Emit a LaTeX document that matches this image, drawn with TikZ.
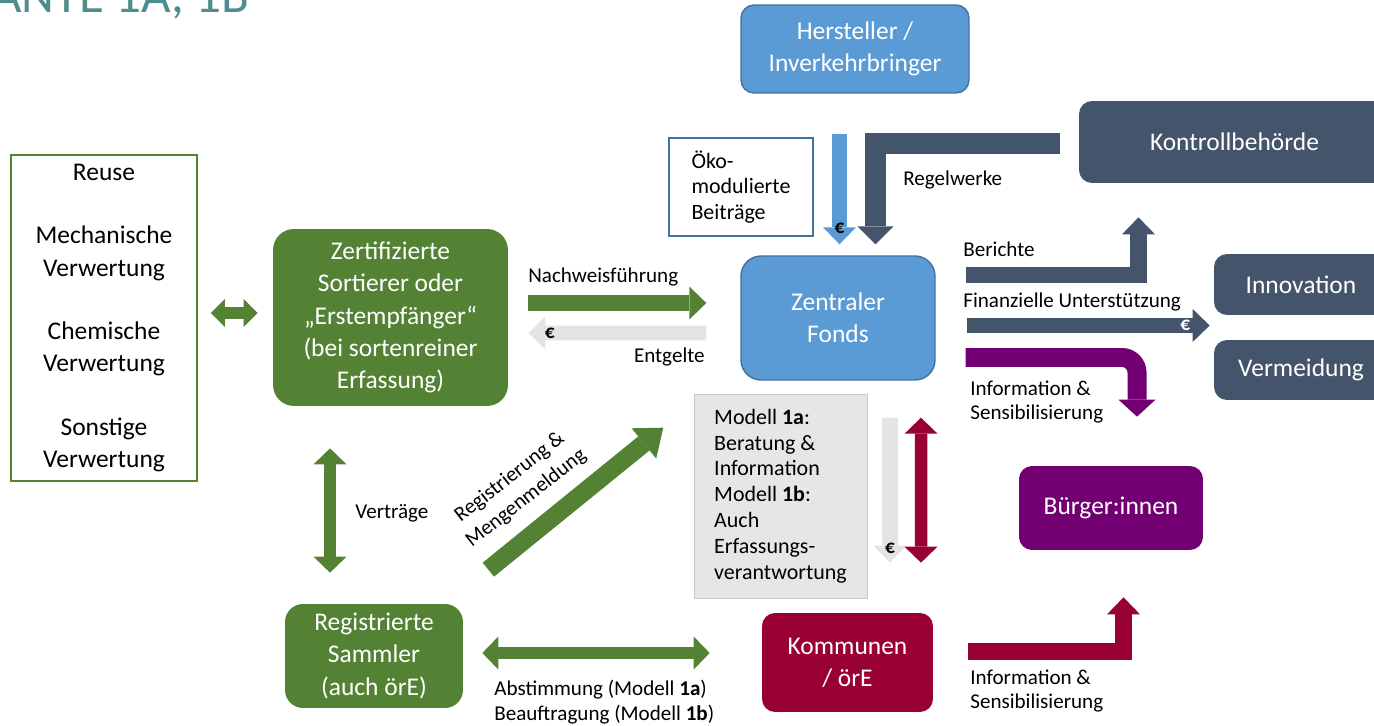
\documentclass[tikz,border=0pt]{standalone}
\usepackage{fontspec}
\setmainfont{Carlito}
\usepackage{xcolor}
\usepackage{tikz}
\usetikzlibrary{arrows.meta, positioning, calc}
\definecolor{sgreen}{HTML}{548235}
\definecolor{fundblue}{HTML}{5B9BD5}
\definecolor{blueline}{HTML}{41719C}
\definecolor{slate}{HTML}{44546A}
\definecolor{plum}{HTML}{720072}
\definecolor{crimson}{HTML}{990033}
\definecolor{panelgray}{HTML}{E7E6E6}
\definecolor{panelline}{HTML}{C8C8C8}
\definecolor{eurogray}{HTML}{E4E4E4}
\definecolor{titleteal}{HTML}{4E8C8E}

\begin{document}
\begin{tikzpicture}[x=0.02cm, y=-0.02cm,
    box/.style={rectangle, rounded corners=0.26cm, inner sep=0pt, text=white, align=center, font=\fontsize{14.5}{18.3}\selectfont},
    plain/.style={rectangle, inner sep=0pt, fill=white, align=center, font=\fontsize{14.5}{18.6}\selectfont},
    lbl/.style={inner sep=0pt, align=left, font=\fontsize{12}{14}\selectfont},
    euro/.style={inner sep=0pt, font=\fontsize{11}{11}\selectfont\bfseries},
    barr/.style={line width=#1, -{Triangle[length=0.34cm, width=0.66cm, line width=0pt]}},
    bdbl/.style={line width=#1, {Triangle[length=0.32cm, width=0.66cm, line width=0pt]}-{Triangle[length=0.32cm, width=0.66cm, line width=0pt]}}
]
    \useasboundingbox (0,0) rectangle (1374,726);
    \clip (0,0) rectangle (1374,726);

    \node[anchor=base west, inner sep=0pt, text=titleteal, font=\fontsize{29}{30}\selectfont] (title) at (-8,13) {ANTE 1A, 1B};

    \node[plain, draw=sgreen, line width=1pt, minimum width=3.72cm, minimum height=6.52cm] (verw) at (104,318) {Reuse\\[17.4pt]Mechanische\\Verwertung\\[17.4pt]Chemische\\Verwertung\\[17.4pt]Sonstige\\Verwertung};
    \node[box, fill=sgreen, rounded corners=0.42cm, minimum width=4.7cm, minimum height=3.54cm] (zert) at (390.5,317.5) {Zertifizierte\\Sortierer oder\\„Erstempfänger“\\(bei sortenreiner\\Erfassung)};
    \node[box, fill=sgreen, rounded corners=0.36cm, minimum width=3.56cm, minimum height=2.08cm] (sammler) at (374,656) {Registrierte\\Sammler\\(auch örE)};
    \node[box, fill=fundblue, draw=blueline, line width=0.8pt, minimum width=4.56cm, minimum height=1.76cm] (herst) at (855,49) {Hersteller /\\Inverkehrbringer};
    \node[box, fill=fundblue, draw=blueline, line width=0.8pt, rounded corners=0.4cm, minimum width=3.88cm, minimum height=2.48cm] (fonds) at (838,318) {Zentraler\\Fonds};
    \node[plain, draw=blueline, line width=0.8pt, align=left, font=\fontsize{12.5}{14.7}\selectfont, minimum width=2.88cm, minimum height=1.96cm] (oeko) at (741,187) {Öko-\\modulierte\\Beiträge};
    \node[plain, draw=panelline, fill=panelgray, align=left, font=\fontsize{12.5}{14.7}\selectfont, minimum width=3.46cm, minimum height=4.08cm] (modell) at (780.5,496) {Modell \textbf{1a}:\\Beratung \&\\Information\\Modell \textbf{1b}:\\Auch\\Erfassungs-\\verantwortung};
    \node[box, fill=slate, minimum width=6.22cm, minimum height=1.64cm] (kontroll) at (1234.5,142) {Kontrollbehörde};
    \node[box, fill=slate, minimum width=3.48cm, minimum height=1.22cm] (innov) at (1301,284.5) {Innovation};
    \node[box, fill=slate, minimum width=3.48cm, minimum height=1.2cm] (vermeid) at (1301,370) {Vermeidung};
    \node[box, fill=plum, minimum width=3.68cm, minimum height=1.68cm] (buerger) at (1111,508) {Bürger:innen};
    \node[box, fill=crimson, minimum width=3.42cm, minimum height=1.98cm] (kommunen) at (847.5,662.5) {Kommunen\\/ örE};

    \draw[sgreen, line width=0.24cm, {Triangle[length=0.28cm, width=0.56cm, line width=0pt]}-{Triangle[length=0.28cm, width=0.56cm, line width=0pt]}] ($(verw.east)+(13,-5)$) -- ($(zert.west)+(-15,-4.5)$);
    \draw[barr=0.32cm, sgreen] ($(zert.east)+(20,-14.5)$) -- ($(fonds.west)+(-34,-15)$);
    \draw[barr=0.3cm, eurogray] ($(fonds.west)+(-34,15)$) -- node[euro, pos=0.88, text=black] {€} ($(zert.east)+(20,15.5)$);
    \draw[barr=0.3cm, fundblue] ($(herst.south -| fonds.north)+(1.5,40)$) -- node[euro, pos=0.86, text=black] {€} ($(fonds.north)+(1.5,-11)$);
    \draw[slate, line width=0.42cm, -{Triangle[length=0.36cm, width=0.72cm, line width=0pt]}] ($(kontroll.west)+(-19,1.5)$) -| ($(fonds.north)+(37.5,-11)$);
    \draw[barr=0.33cm, slate] ($(fonds.east)+(30,-43)$) -| ($(kontroll.south)+(-96,34)$);
    \draw[barr=0.3cm, slate] ($(fonds.east)+(31,7.5)$) -- node[euro, pos=0.9, text=white] {€} ($(innov.south west)!0.5!(vermeid.north west)+(-4,-2)$);
    \draw[plum, line width=0.38cm, rounded corners=0.3cm, -{Triangle[length=0.34cm, width=0.74cm, line width=0pt]}] ($(fonds.east)+(30,39.5)$) -| ($(buerger.north)+(26,-49)$);
    \draw[barr=0.32cm, eurogray] ($(fonds.south)+(52,37)$) -- node[euro, pos=0.9, text=black] {€} ($(kommunen.north)+(42.5,-50)$);
    \draw[bdbl=0.25cm, crimson] ($(fonds.south)+(83,37)$) -- ($(kommunen.north)+(73.5,-50)$);
    \draw[barr=0.34cm, crimson] ($(kommunen.east)+(35,-11)$) -| ($(buerger.south)+(12.5,47)$);
    \draw[bdbl=0.24cm, sgreen] ($(zert.south)+(-60.5,42)$) -- ($(sammler.north)+(-44,-31)$);
    \draw[sgreen, line width=0.36cm, -{Triangle[length=0.5cm, width=0.78cm, line width=0pt]}] ($(sammler.north east)+(25,-34)$) -- ($(fonds.south west)+(-77,47)$);
    \draw[bdbl=0.24cm, sgreen] ($(sammler.east)+(19,-3)$) -- ($(kommunen.west)+(-52,-9.5)$);

    \node[lbl, anchor=west] (nachw) at (528,277) {Nachweisführung};
    \node[lbl, anchor=east] (entg) at (705,357) {Entgelte};
    \node[lbl, anchor=west] (regel) at (903,180) {Regelwerke};
    \node[lbl, anchor=west] (ber) at (963,249) {Berichte};
    \node[lbl, anchor=west] (finanz) at (963,302) {Finanzielle Unterstützung};
    \node[lbl, anchor=west] (info1) at (970,402) {Information \&\\Sensibilisierung};
    \node[lbl, anchor=west] (info2) at (970,691) {Information \&\\Sensibilisierung};
    \node[lbl, anchor=west] (vertr) at (355,513) {Verträge};
    \node[lbl, anchor=west] (abst) at (494,702) {Abstimmung (Modell \textbf{1a})\\Beauftragung (Modell \textbf{1b})};
    \node[lbl, align=center, rotate=38, font=\fontsize{12}{15}\selectfont] (regist) at (518,488) {Registrierung \&\\Mengenmeldung};
\end{tikzpicture}
\end{document}
